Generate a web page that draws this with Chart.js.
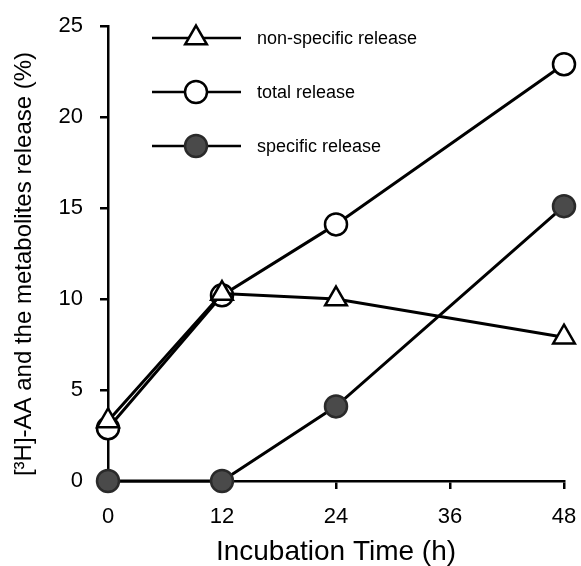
<!DOCTYPE html>
<html>
<head>
<meta charset="utf-8">
<script src="https://cdn.jsdelivr.net/npm/chart.js@4/dist/chart.umd.min.js"></script>
<style>
  html, body { margin: 0; padding: 0; background: #fff; }
  #wrap { width: 581px; height: 566px; }
</style>
</head>
<body>
<div id="wrap"><canvas id="c" width="581" height="566"></canvas></div>
<script>
// ---- data ----
const hours = [0, 12, 24, 48];
const xTicks = [0, 12, 24, 36, 48];
const yTicks = [0, 5, 10, 15, 20, 25];
const nonSpecific = [3.3, 10.3, 10.0, 7.9];
const totalRelease = [2.9, 10.2, 14.1, 22.9];
const specificRelease = [0, 0, 4.1, 15.1];
const seriesNames = ['non-specific release', 'total release', 'specific release'];
const xTitle = 'Incubation Time (h)';
const yTitle = '[\u00B3H]-AA and the metabolites release (%)';

const FONT = '"Liberation Sans", Arial, Helvetica, sans-serif';
const toXY = (vals) => hours.map((h, i) => ({ x: h, y: vals[i] }));

const datasets = [
  { label: seriesNames[0], data: toXY(nonSpecific), pointStyle: 'triangle', pointRadius: 12.5,
    backgroundColor: '#ffffff', borderColor: '#000', pointBorderColor: '#000', pointBackgroundColor: '#fff' },
  { label: seriesNames[1], data: toXY(totalRelease), pointStyle: 'circle', pointRadius: 11,
    backgroundColor: '#ffffff', borderColor: '#000', pointBorderColor: '#000', pointBackgroundColor: '#fff' },
  { label: seriesNames[2], data: toXY(specificRelease), pointStyle: 'circle', pointRadius: 11,
    backgroundColor: '#4a4a4a', borderColor: '#000', pointBorderColor: '#2a2a2a', pointBackgroundColor: '#4a4a4a' }
].map(d => Object.assign(d, { borderWidth: 3, pointBorderWidth: 2.5, tension: 0, fill: false, clip: false, pointHoverRadius: d.pointRadius }));

function drawMarker(ctx, style, x, y, r, fill, stroke) {
  ctx.save();
  ctx.fillStyle = fill; ctx.strokeStyle = stroke; ctx.lineWidth = 2.5;
  ctx.beginPath();
  if (style === 'triangle') {
    for (let k = 0; k < 3; k++) {
      const a = k * 2 * Math.PI / 3;
      const px = x + Math.sin(a) * r, py = y - Math.cos(a) * r;
      if (k === 0) ctx.moveTo(px, py); else ctx.lineTo(px, py);
    }
    ctx.closePath();
  } else {
    ctx.arc(x, y, r, 0, Math.PI * 2);
  }
  ctx.fill(); ctx.stroke();
  ctx.restore();
}

const customLegend = {
  id: 'customLegend',
  afterDraw(chart) {
    const ctx = chart.ctx;
    const rows = [38, 92, 146];
    chart.data.datasets.forEach((ds, i) => {
      const y = rows[i];
      ctx.save();
      ctx.strokeStyle = '#000'; ctx.lineWidth = 2.5;
      ctx.beginPath(); ctx.moveTo(152, y); ctx.lineTo(241, y); ctx.stroke();
      ctx.restore();
      drawMarker(ctx, ds.pointStyle, 196, y, ds.pointRadius, ds.pointBackgroundColor, ds.pointBorderColor);
      ctx.save();
      ctx.fillStyle = '#000';
      ctx.font = '18px ' + FONT;
      ctx.textBaseline = 'middle';
      ctx.fillText(ds.label, 257, y + 1);
      ctx.restore();
    });
    // y-axis title
    ctx.save();
    ctx.translate(24, 264);
    ctx.rotate(-Math.PI / 2);
    ctx.fillStyle = '#000';
    ctx.font = '24px ' + FONT;
    ctx.textAlign = 'center';
    ctx.textBaseline = 'middle';
    ctx.fillText(yTitle, 0, 0);
    ctx.restore();
  }
};

new Chart(document.getElementById('c'), {
  type: 'line',
  data: { datasets },
  plugins: [customLegend],
  options: {
    responsive: false,
    animation: false,
    devicePixelRatio: 1,
    layout: { padding: { top: 26, right: 17, left: 0, bottom: 0 } },
    plugins: { legend: { display: false }, tooltip: { enabled: false } },
    scales: {
      x: {
        type: 'linear', min: 0, max: 48,
        afterBuildTicks: (s) => { s.ticks = xTicks.map(v => ({ value: v })); },
        afterFit: (s) => { s.height = 85; s.paddingLeft = 0; s.paddingRight = 0; },
        grid: { display: true, drawOnChartArea: false, drawTicks: true, tickLength: 8, color: '#000', lineWidth: 2.5 },
        border: { display: true, color: '#000', width: 2.5 },
        ticks: { color: '#000', font: { family: FONT, size: 22 }, padding: 15, maxRotation: 0 },
        title: { display: true, text: xTitle, color: '#000', font: { family: FONT, size: 28 }, padding: { top: 0, bottom: -3 } }
      },
      y: {
        type: 'linear', min: 0, max: 25,
        afterBuildTicks: (s) => { s.ticks = yTicks.map(v => ({ value: v })); },
        afterFit: (s) => { s.width = 108; s.paddingTop = 0; s.paddingBottom = 0; },
        grid: { display: true, drawOnChartArea: false, drawTicks: true, tickLength: 8, color: '#000', lineWidth: 2.5 },
        border: { display: true, color: '#000', width: 2.5 },
        ticks: { color: '#000', font: { family: FONT, size: 22 }, padding: 17 },
        title: { display: false }
      }
    }
  }
});
</script>
</body>
</html>
